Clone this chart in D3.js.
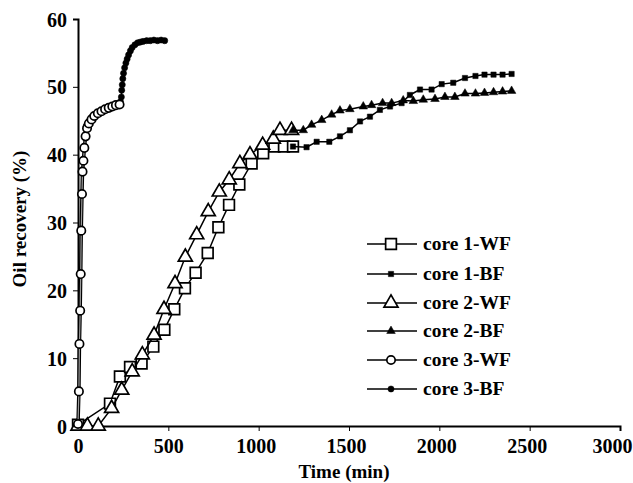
<!DOCTYPE html>
<html>
<head>
<meta charset="utf-8">
<script src="https://cdn.jsdelivr.net/npm/d3@7"></script>
<style>
  body { margin: 0; background: #fff; }
  text { font-family: "Liberation Serif", "Times New Roman", serif; font-weight: bold; }
</style>
</head>
<body>
<svg id="svg1" width="633" height="483"></svg>
<script>
// data: time (min) and oil recovery (%)
var core1WF_t = [0, 177, 232, 288, 352, 417, 478, 533, 592, 651, 718, 777, 836, 893, 961, 1025, 1087, 1140, 1190];
var core1WF_v = [0.2, 3.3, 7.3, 8.7, 9.2, 11.7, 14.2, 17.2, 20.3, 22.6, 25.5, 29.3, 32.6, 35.6, 38.7, 40.2, 41.2, 41.2, 41.2];

var core1BF_t = [1190, 1265, 1321, 1391, 1450, 1505, 1561, 1616, 1671, 1727, 1791, 1837, 1893, 1957, 2013, 2077, 2142, 2200, 2250, 2300, 2350, 2400];
var core1BF_v = [41.2, 41.1, 41.9, 41.9, 42.7, 43.6, 44.9, 45.6, 46.6, 47.1, 47.6, 48.8, 49.6, 49.6, 50.4, 50.6, 51.3, 51.6, 51.8, 51.8, 51.8, 51.9];

var core2WF_t = [0, 52, 112, 186, 242, 300, 356, 421, 476, 537, 594, 657, 721, 782, 837, 896, 952, 1022, 1081, 1118, 1182];
var core2WF_v = [0, 0, 0, 2.6, 5.3, 8.0, 10.5, 13.4, 17.2, 21.0, 24.9, 28.2, 31.6, 34.5, 36.3, 38.7, 40.0, 41.4, 42.3, 43.6, 43.6];

var core2BF_t = [1190, 1247, 1293, 1349, 1404, 1450, 1505, 1579, 1625, 1686, 1736, 1800, 1856, 1911, 1976, 2031, 2086, 2142, 2200, 2250, 2300, 2350, 2400];
var core2BF_v = [43.6, 43.6, 44.4, 45.1, 45.9, 46.5, 46.7, 47.1, 47.3, 47.6, 47.6, 48.0, 47.9, 48.1, 48.2, 48.5, 48.5, 49.0, 49.0, 49.1, 49.2, 49.3, 49.4];

var core3WF_t = [0, 5, 8, 12, 15, 18, 22, 25, 30, 35, 42, 50, 60, 75, 90, 110, 130, 150, 170, 190, 210, 230];
var core3WF_v = [0.3, 5.1, 12.1, 17.0, 22.4, 28.8, 34.2, 37.5, 39.1, 41.0, 42.7, 43.9, 44.6, 45.2, 45.7, 46.1, 46.4, 46.7, 46.9, 47.1, 47.3, 47.4];

var core3BF_t = [45, 60, 80, 100, 120, 140, 160, 180, 200, 220, 235, 240, 242, 245, 248, 252, 258, 265, 272, 280, 290, 300, 315, 330, 345, 360, 380, 400, 420, 440, 460, 480];
var core3BF_v = [44.2, 44.9, 45.4, 45.9, 46.2, 46.5, 46.8, 47.0, 47.2, 47.4, 47.8, 48.5, 49.5, 50.3, 51.2, 52.0, 52.8, 53.5, 54.1, 54.7, 55.3, 55.8, 56.2, 56.5, 56.6, 56.7, 56.8, 56.8, 56.9, 56.8, 56.9, 56.8];

var seriesNames = ['core 1-WF', 'core 1-BF', 'core 2-WF', 'core 2-BF', 'core 3-WF', 'core 3-BF'];
var xTicks = [0, 500, 1000, 1500, 2000, 2500, 3000];
var yTicks = [0, 10, 20, 30, 40, 50, 60];

function zip(t, v) {
    return t.map(function(d, i) { return {t: d, v: v[i]}; });
}

// marker style for each series
var series = [
    {name: seriesNames[0], pts: zip(core1WF_t, core1WF_v), sym: d3.symbolSquare, size: 115, fill: '#fff'},
    {name: seriesNames[1], pts: zip(core1BF_t, core1BF_v), sym: d3.symbolSquare, size: 28, fill: '#000'},
    {name: seriesNames[2], pts: zip(core2WF_t, core2WF_v), sym: d3.symbolTriangle, size: 85, fill: '#fff'},
    {name: seriesNames[3], pts: zip(core2BF_t, core2BF_v), sym: d3.symbolTriangle, size: 32, fill: '#000'},
    {name: seriesNames[4], pts: zip(core3WF_t, core3WF_v), sym: d3.symbolCircle, size: 55, fill: '#fff'},
    {name: seriesNames[5], pts: zip(core3BF_t, core3BF_v), sym: d3.symbolCircle, size: 30, fill: '#000'}
];

var svg = d3.select('svg');

var x = d3.scaleLinear().domain([0, 3000]).range([78, 620]);
var y = d3.scaleLinear().domain([0, 60]).range([426, 19]);

// axes
var xAxis = svg.append('g')
    .attr('transform', 'translate(0,426)')
    .call(d3.axisBottom(x).tickValues(xTicks).tickFormat(d3.format('d')).tickSize(5).tickPadding(8));
var yAxis = svg.append('g')
    .attr('transform', 'translate(78,0)')
    .call(d3.axisLeft(y).tickValues(yTicks).tickFormat(d3.format('d')).tickSize(5).tickPadding(6));

[xAxis, yAxis].forEach(function(a) {
    a.select('.domain').attr('stroke', '#000').attr('stroke-width', 2);
    a.selectAll('.tick line').attr('stroke', '#000').attr('stroke-width', 1);
    a.selectAll('.tick text')
        .attr('fill', '#000')
        .style('font-family', '"Liberation Serif", serif')
        .style('font-weight', 'bold')
        .style('font-size', '20px');
});
xAxis.selectAll('.tick text').attr('dy', '0.71em')
    .attr('dx', function(d) { return d >= 1000 ? -3 : 0; });
// last label sits against the right edge
xAxis.selectAll('.tick text').filter(function(d) { return d === 3000; })
    .attr('text-anchor', 'end').attr('dx', 12);
yAxis.selectAll('.tick text').attr('dy', '0.35em');

svg.append('text')
    .attr('x', 344)
    .attr('y', 478)
    .attr('text-anchor', 'middle')
    .style('font-size', '19px')
    .text('Time (min)');

svg.append('text')
    .attr('transform', 'translate(26,219) rotate(-90)')
    .attr('text-anchor', 'middle')
    .style('font-size', '19px')
    .text('Oil recovery (%)');

var line = d3.line()
    .x(function(d) { return x(d.t); })
    .y(function(d) { return y(d.v); });

// drawing order: core 3 WF on top of its BF dots
var order = [0, 1, 2, 3, 5, 4];

order.forEach(function(i) {
    var s = series[i];
    var g = svg.append('g');
    if (i === 4) {
        g.append('path').datum(s.pts).attr('d', line)
            .attr('fill', 'none').attr('stroke', '#000').attr('stroke-width', 3.5);
        g.append('path').datum(s.pts).attr('d', line)
            .attr('fill', 'none').attr('stroke', '#999').attr('stroke-width', 1.2);
    } else {
        g.append('path').datum(s.pts).attr('d', line)
            .attr('fill', 'none').attr('stroke', '#000').attr('stroke-width', 1.5);
    }
    g.selectAll('path.mark')
        .data(s.pts)
        .enter()
        .append('path')
        .attr('class', 'mark')
        .attr('d', d3.symbol().type(s.sym).size(s.size))
        .attr('transform', function(d) { return 'translate(' + x(d.t) + ',' + y(d.v) + ')'; })
        .attr('fill', s.fill)
        .attr('stroke', '#000')
        .attr('stroke-width', s.fill === '#fff' ? 1.7 : 0.5);
});

// legend
var legend = svg.append('g').attr('transform', 'translate(367,0)');
var legendY = [244, 274, 303, 331, 360, 389];
series.forEach(function(s, i) {
    var row = legend.append('g').attr('transform', 'translate(0,' + legendY[i] + ')');
    row.append('line')
        .attr('x1', 0).attr('x2', 50)
        .attr('stroke', '#000').attr('stroke-width', 1.5);
    row.append('path')
        .attr('d', d3.symbol().type(s.sym).size(s.size))
        .attr('transform', 'translate(24,0)')
        .attr('fill', s.fill)
        .attr('stroke', '#000')
        .attr('stroke-width', s.fill === '#fff' ? 1.7 : 0.5);
    row.append('text')
        .attr('x', 56)
        .attr('dy', '0.33em')
        .style('font-size', '19.5px')
        .text(s.name);
});
</script>
</body>
</html>
